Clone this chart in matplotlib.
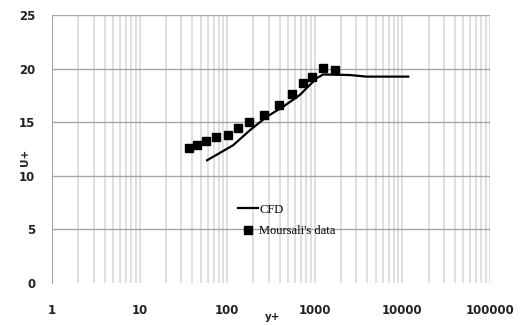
import numpy as np
import matplotlib
matplotlib.use("Agg")
import matplotlib.pyplot as plt
from matplotlib.ticker import FixedLocator, NullFormatter

# CFD profile
cfd_y = [59, 117, 182, 282, 437, 678, 1050, 1250, 2500, 3900, 11700]
cfd_u = [11.45, 12.85, 14.25, 15.5, 16.45, 17.55, 19.1, 19.45, 19.4, 19.25, 19.25]

# Moursali's data
exp_y = [36.6, 44.9, 56.8, 73.9, 101, 134, 176, 265, 390, 545, 728, 936, 1231, 1700]
exp_u = [12.57, 12.87, 13.25, 13.6, 13.83, 14.43, 15.05, 15.65, 16.6, 17.6, 18.63, 19.25, 20.05, 19.87]

x_ticks = [1, 10, 100, 1000, 10000, 100000]
x_labels = ["1", "10", "100", "1000", "10000", "100000"]
y_ticks = [0, 5, 10, 15, 20, 25]

fig = plt.figure(figsize=(5.2, 3.25), dpi=100)
ax = fig.add_axes([0.1, 0.129, 0.842, 0.825])

ax.set_xscale("log")
ax.set_xlim(1, 100000)
ax.set_ylim(0, 25)

# grid lines
minor = [m * 10 ** d for d in range(5) for m in range(2, 10)]
for v in minor + x_ticks:
    ax.axvline(v, color="#dcdcdc", lw=1.3, zorder=0)
for v in y_ticks[1:]:
    ax.axhline(v, color="#a6a6a6", lw=1.0, zorder=0)

ax.plot(cfd_y, cfd_u, color="black", lw=1.6, label="CFD", zorder=3)
ax.plot(exp_y, exp_u, ls="none", marker="s", ms=5.5, color="black",
        label="Moursali's data", zorder=4)

for s in ["top", "right", "bottom"]:
    ax.spines[s].set_visible(False)
ax.spines["left"].set_color("#a6a6a6")

ax.xaxis.set_major_locator(FixedLocator(x_ticks))
ax.xaxis.set_minor_formatter(NullFormatter())
ax.set_xticklabels(x_labels)
ax.set_yticks(y_ticks)
ax.tick_params(which="both", length=0)
ax.tick_params(axis="x", pad=15)
ax.tick_params(axis="y", pad=12)
for lab in ax.get_xticklabels() + ax.get_yticklabels():
    lab.set_fontsize(8.5)
    lab.set_fontweight("bold")
    lab.set_color("#222222")

ax.text(0.503, -0.125, "y+", transform=ax.transAxes, fontsize=7.5,
        fontweight="bold", ha="center", va="center", color="#222222")
ax.text(-0.062, 0.47, "U+", transform=ax.transAxes, fontsize=7.5, rotation=90,
        fontweight="bold", ha="center", va="center", color="#222222")

leg = ax.legend(loc="upper left", bbox_to_anchor=(0.41, 0.32), frameon=False,
                prop={"family": "Liberation Serif", "size": 9},
                handlelength=1.6, handletextpad=0.1, borderpad=0,
                labelspacing=0.75)

fig.savefig("out.png", dpi=100)
